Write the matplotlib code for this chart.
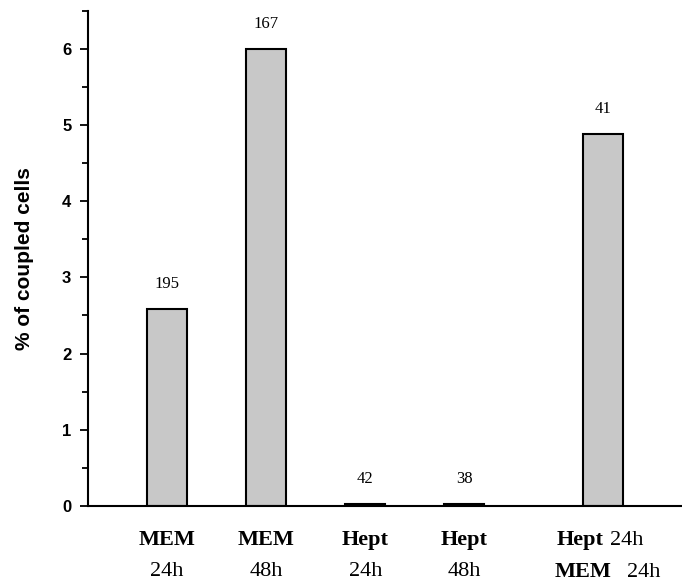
import matplotlib
matplotlib.use("Agg")
import matplotlib.pyplot as plt
from matplotlib.ticker import MultipleLocator

# data
positions = [0, 1, 2, 3, 4.4]
values = [2.59, 6.0, 0.025, 0.025, 4.88]
counts = ["195", "167", "42", "38", "41"]
line1 = [("MEM", ""), ("MEM", ""), ("Hept", ""), ("Hept", ""), ("Hept", "24h")]
line2 = [("", "24h"), ("", "48h"), ("", "24h"), ("", "48h"), ("MEM", "24h")]

serif = ["Liberation Serif", "DejaVu Serif"]
sans = ["Liberation Sans", "DejaVu Sans"]

fig = plt.figure(figsize=(6.82, 5.85), dpi=100)
ax = fig.add_axes([0.129, 0.135, 0.871, 0.847])

bars = ax.bar(positions, values, width=0.4, color="#c8c8c8",
              edgecolor="black", linewidth=1.5)
for x, v, c in zip(positions, values, counts):
    ax.annotate(c, xy=(x, v), xytext=(0, 12), textcoords="offset points",
                ha="center", va="bottom", fontsize=12, family=serif)

ax.set_xlim(-0.8, 5.2)
ax.set_ylim(0, 6.5)
ax.yaxis.set_major_locator(MultipleLocator(1))
ax.yaxis.set_minor_locator(MultipleLocator(0.5))
ax.set_xticks([])
for s in ("top", "right"):
    ax.spines[s].set_visible(False)
ax.spines["left"].set_linewidth(1.5)
ax.spines["bottom"].set_linewidth(1.5)
ax.tick_params(axis="y", which="major", direction="out", length=6,
               width=1.3, pad=6, labelsize=12)
ax.tick_params(axis="y", which="minor", direction="out", length=4, width=1.3)
for lab in ax.get_yticklabels():
    lab.set_fontfamily(sans)
    lab.set_fontweight("bold")

ax.set_ylabel("% of coupled cells", fontsize=15, fontweight="bold",
              family=sans, labelpad=20)


def two_part(x, y, bold, plain, shift, gap):
    # bold word then plain word, roughly centred on x
    if bold and plain:
        t = ax.annotate(bold, xy=(x, y), xycoords=("data", "axes fraction"),
                        xytext=(shift, 0), textcoords="offset points",
                        ha="center", va="center", fontsize=16,
                        fontweight="bold", family=serif)
        ax.annotate(plain, xy=(1, 0), xycoords=t, xytext=(gap, 0),
                    textcoords="offset points", ha="left", va="bottom",
                    fontsize=16, family=serif)
    else:
        ax.annotate(bold or plain, xy=(x, y),
                    xycoords=("data", "axes fraction"),
                    ha="center", va="center", fontsize=16,
                    fontweight="bold" if bold else "normal", family=serif)


for x, (b1, p1), (b2, p2) in zip(positions, line1, line2):
    two_part(x, -0.069, b1, p1, -16, 4)
    two_part(x, -0.133, b2, p2, -14, 11)

fig.savefig("out.png", dpi=100)
